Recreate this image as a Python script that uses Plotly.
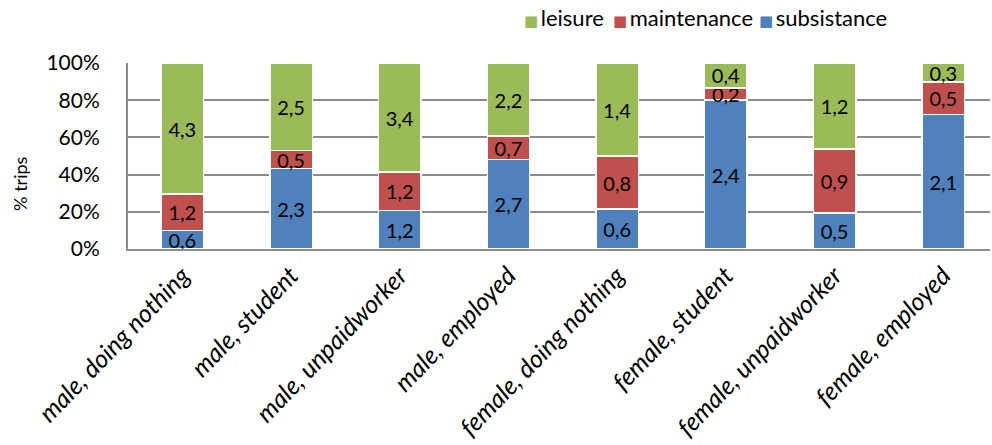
import plotly.graph_objects as go

categories = [
    "male, doing nothing", "male, student", "male, unpaidworker", "male, employed",
    "female, doing nothing", "female, student", "female, unpaidworker", "female, employed",
]
subsistance = [0.6, 2.3, 1.2, 2.7, 0.6, 2.4, 0.5, 2.1]
maintenance = [1.2, 0.5, 1.2, 0.7, 0.8, 0.2, 0.9, 0.5]
leisure = [4.3, 2.5, 3.4, 2.2, 1.4, 0.4, 1.2, 0.3]
y_ticks = [0, 20, 40, 60, 80, 100]

FONT = "Lato, 'Open Sans', sans-serif"
PLOT_LEFT, PLOT_W = 128, 862

def fmt(v):
    return f"{v:.1f}".replace(".", ",")

series = [
    ("subsistance", subsistance, "#4F81BD"),
    ("maintenance", maintenance, "#C0504D"),
    ("leisure", leisure, "#9BBB59"),
]

fig = go.Figure()
for name, vals, color in series:
    fig.add_trace(go.Bar(
        x=categories, y=vals, name=name,
        marker=dict(color=color, line=dict(color="white", width=1.5)),
        text=[fmt(v) for v in vals],
        textposition="inside", insidetextanchor="middle",
        constraintext="none",
        textfont=dict(family=FONT, size=20, color="black"),
        showlegend=False,
    ))

# compact legend row above the plot: leisure, maintenance, subsistance
legend_x = [522, 611, 757]
annotations = []
for (name, _, color), px in zip(reversed(series), legend_x):
    annotations.append(dict(
        text=(f"<span style='color:{color};font-size:15px;font-family:DejaVu Sans'>■</span>"
              f"<span style='font-size:10px'> </span>{name}"),
        showarrow=False, xref="paper", yref="paper",
        x=(px - PLOT_LEFT) / PLOT_W, y=1.242,
        xanchor="left", yanchor="middle",
        font=dict(family=FONT, size=22, color="black"),
    ))

annotations.append(dict(
    text="% trips", textangle=-90, showarrow=False,
    xref="paper", yref="paper", x=(20 - PLOT_LEFT) / PLOT_W, y=0.35,
    xanchor="center", yanchor="middle",
    font=dict(family=FONT, size=18),
))

fig.update_layout(
    barmode="stack", barnorm="percent", bargap=0.61,
    width=992, height=445,
    margin=dict(l=PLOT_LEFT, r=2, t=63, b=196, autoexpand=False),
    paper_bgcolor="white", plot_bgcolor="white",
    font=dict(family=FONT, size=21, color="black"),
    xaxis=dict(
        range=[-0.5, 7.43], tickangle=-46,
        tickmode="array", tickvals=categories,
        ticktext=[f"<i>{c}</i>" for c in categories],
        showline=True, linecolor="#8c8c8c", linewidth=2,
        showgrid=False, ticks="",
        tickfont=dict(family=FONT, size=25),
    ),
    yaxis=dict(
        range=[0, 100], tickvals=y_ticks, ticktext=[f"{t}%" for t in y_ticks],
        showline=True, linecolor="#8c8c8c", linewidth=2,
        showgrid=True, gridcolor="#8c8c8c", gridwidth=1.5,
        ticks="", ticklabelstandoff=22,
        tickfont=dict(family=FONT, size=21),
        zeroline=False,
    ),
    annotations=annotations,
)

fig.write_html("out.html")
